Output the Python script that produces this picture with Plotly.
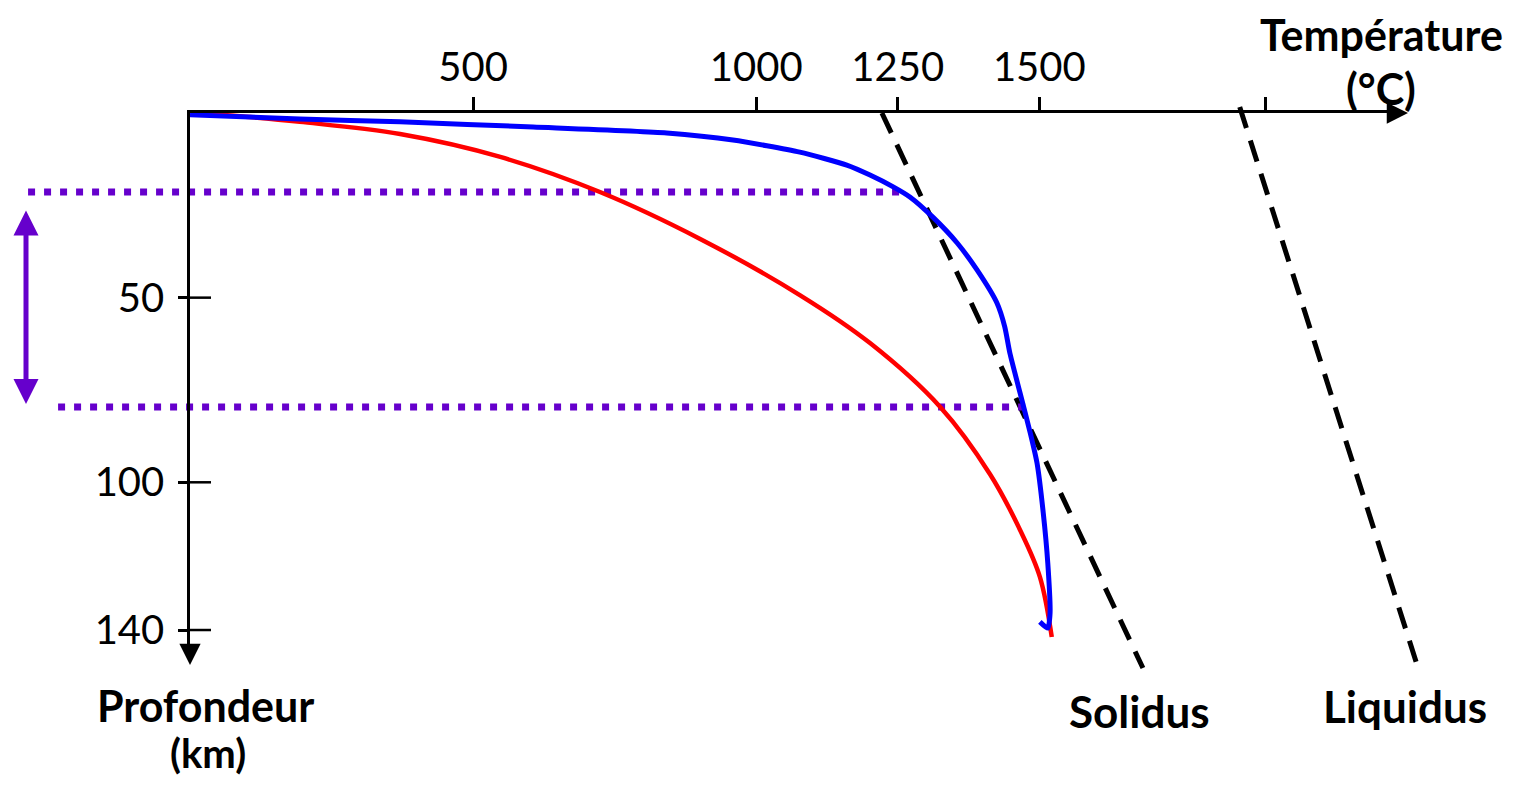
import plotly.graph_objects as go

# ---------------- data ----------------
temp_ticks = [500, 1000, 1250, 1500, 1900]
temp_tick_labels = ["500", "1000", "1250", "1500", ""]
depth_ticks = [50, 100, 140]
depth_tick_labels = ["50", "100", "140"]

# geotherm (red)
red_temp = [12, 106, 194, 371, 548, 724, 901, 1077, 1201, 1325, 1413, 1466, 1501, 1522]
red_depth = [0, 1.1, 2.4, 5.7, 11.9, 21.4, 34.1, 49.3, 62.3, 79.6, 97.8, 112.9, 125.6, 141.9]

# geotherm (blue)
blue_temp = [0, 194, 371, 606, 842, 959, 1077, 1160, 1201, 1242, 1272, 1312, 1355,
             1390, 1425, 1439, 1448, 1466, 1484, 1496, 1507, 1515, 1519, 1515, 1501]
blue_depth = [0.5, 1.6, 2.4, 3.8, 5.4, 7.3, 10.6, 14.1, 16.8, 20.0, 22.8, 28.2, 35.2,
              42.5, 51.4, 57.9, 65.0, 75.8, 86.6, 94.8, 108.3, 121.9, 135.4, 139.5, 137.8]

solidus_temp = [1222, 1683]
solidus_depth = [0, 150.3]
liquidus_temp = [1854, 2169]
liquidus_depth = [-1.6, 150.3]

melt_top_depth = 21.4
melt_bottom_depth = 79.6
melt_top_temp = [-286, 1263]
melt_bottom_temp = [-233, 1475]

# ---------------- layout geometry ----------------
PAGE_OFF = 8
FIG_W, FIG_H = 1501, 770
X0_PX, Y0_PX = 190, 113
PX_PER_DEG = 0.5662
PX_PER_KM = 3.693
X_END_PX, Y_END_PX = 1400, 652


def paper_x(px):
    return (px - PAGE_OFF) / FIG_W


def paper_y(py):
    return 1 - (py - PAGE_OFF) / FIG_H


def deg(px):
    return (px - X0_PX) / PX_PER_DEG


def km(py):
    return (py - Y0_PX) / PX_PER_KM


BLUE = "#0000FF"
RED = "#FF0000"
PURPLE = "#6600CC"
FONT = "Lato"

fig = go.Figure()

fig.add_trace(go.Scatter(x=red_temp, y=red_depth, mode="lines", xaxis="x2", yaxis="y2",
                         line=dict(color=RED, width=4.5, shape="spline", smoothing=1.0),
                         hoverinfo="skip"))
fig.add_trace(go.Scatter(x=blue_temp, y=blue_depth, mode="lines", xaxis="x2", yaxis="y2",
                         line=dict(color=BLUE, width=5, shape="spline", smoothing=0.6),
                         hoverinfo="skip"))
for tx, dy in ((solidus_temp, solidus_depth), (liquidus_temp, liquidus_depth)):
    fig.add_trace(go.Scatter(x=tx, y=dy, mode="lines",
                             line=dict(color="black", width=5, dash="22px,13px"),
                             hoverinfo="skip"))
fig.add_trace(go.Scatter(x=melt_top_temp, y=[melt_top_depth] * 2, mode="lines",
                         line=dict(color=PURPLE, width=7, dash="7px,9px"), hoverinfo="skip"))
fig.add_trace(go.Scatter(x=melt_bottom_temp, y=[melt_bottom_depth] * 2, mode="lines",
                         line=dict(color=PURPLE, width=7, dash="7px,9px"), hoverinfo="skip"))

hidden = dict(visible=False, showgrid=False, zeroline=False, fixedrange=True)
fig.update_layout(
    width=FIG_W, height=FIG_H,
    margin=dict(l=0, r=0, t=0, b=0, pad=0),
    paper_bgcolor="white", plot_bgcolor="rgba(0,0,0,0)",
    showlegend=False,
    font=dict(family=FONT, color="black"),
    xaxis=dict(range=[deg(PAGE_OFF), deg(PAGE_OFF + FIG_W)], domain=[0, 1],
               anchor="y", **hidden),
    yaxis=dict(range=[km(PAGE_OFF + FIG_H), km(PAGE_OFF)], domain=[0, 1],
               anchor="x", **hidden),
    xaxis2=dict(domain=[paper_x(X0_PX), paper_x(X_END_PX)], range=[0, deg(X_END_PX)],
                anchor="y2", side="top", showline=True, linecolor="black", linewidth=2.5,
                ticks="outside", ticklen=13, tickwidth=2.5, tickcolor="black",
                tickvals=temp_ticks, ticktext=temp_tick_labels,
                tickfont=dict(family=FONT, size=40, color="black"),
                showgrid=False, zeroline=False, fixedrange=True),
    yaxis2=dict(domain=[paper_y(Y_END_PX), paper_y(Y0_PX)], range=[km(Y_END_PX), 0],
                anchor="x2", side="left", showline=True, linecolor="black", linewidth=2.5,
                ticks="outside", ticklen=9, tickwidth=2.5, tickcolor="black",
                tickvals=depth_ticks, ticktext=depth_tick_labels,
                tickfont=dict(family=FONT, size=40, color="black"),
                ticklabelstandoff=6,
                showgrid=False, zeroline=False, fixedrange=True),
)

# inner half of the crossing depth ticks
for d in depth_ticks:
    fig.add_shape(type="line", xref="x", yref="y", x0=0, x1=deg(211), y0=d, y1=d,
                  line=dict(color="black", width=2.5))

# axis arrowheads
fig.add_annotation(x=deg(1408), y=0, xref="x", yref="y", ax=-18, ay=0, text="",
                   showarrow=True, arrowhead=2, arrowsize=1.7, arrowwidth=2.5,
                   arrowcolor="black")
fig.add_annotation(x=0, y=km(665), xref="x", yref="y", ax=0, ay=-18, text="",
                   showarrow=True, arrowhead=2, arrowsize=1.7, arrowwidth=2.5,
                   arrowcolor="black")

# purple double arrow (melting depth range)
fig.add_annotation(x=paper_x(26), xref="paper", y=km(404), yref="y",
                   ax=0, axref="pixel", ay=km(209), ayref="y", text="",
                   showarrow=True, arrowside="end+start", arrowhead=2, startarrowhead=2,
                   arrowsize=1.0, startarrowsize=1.0, arrowwidth=5, arrowcolor=PURPLE)

# text labels: (text, x px, y px, size)
labels = [
    ("Température", 1381, 35, 43),
    ("(°C)", 1381, 88, 43),
    ("Profondeur", 205, 705, 43),
    ("(km)", 208, 753, 40),
    ("Solidus", 1139, 711, 44),
    ("Liquidus", 1405, 706, 44),
]
for txt, px, py, sz in labels:
    fig.add_annotation(x=paper_x(px), y=paper_y(py), xref="paper", yref="paper",
                       text=txt, showarrow=False, xanchor="center", yanchor="middle",
                       font=dict(family=FONT, size=sz, color="black", weight="bold"))

fig.write_html("out.html")
